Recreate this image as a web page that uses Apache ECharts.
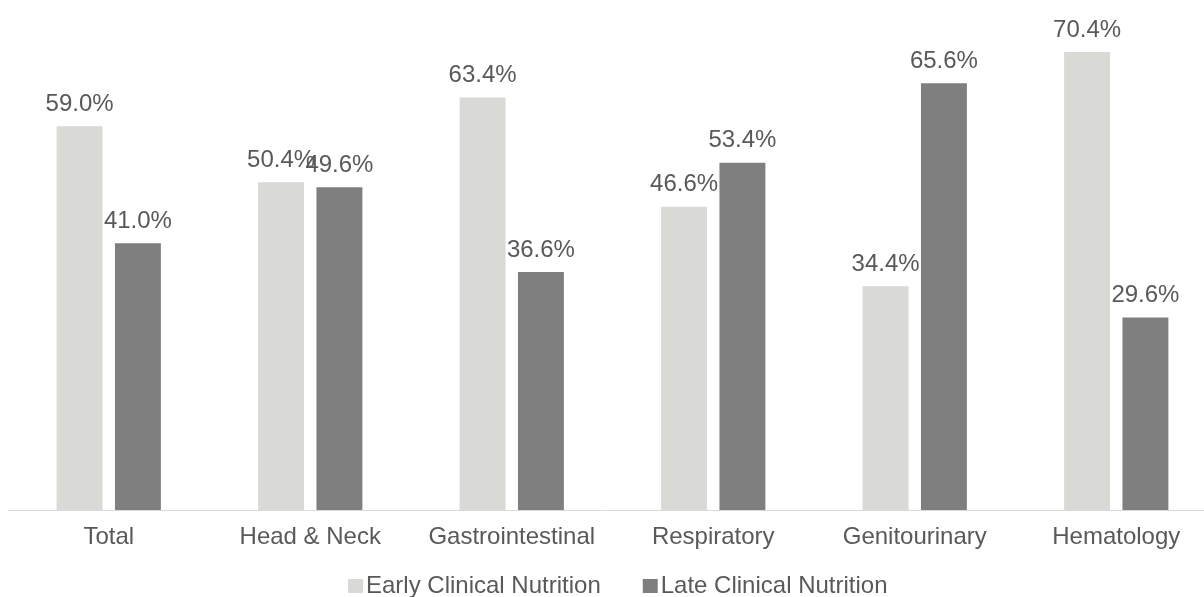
<!DOCTYPE html>
<html>
<head>
<meta charset="utf-8">
<title>Clinical Nutrition</title>
<script src="https://cdn.jsdelivr.net/npm/echarts@6/dist/echarts.min.js"></script>
<style>
	html, body {
		margin: 0;
		padding: 0;
		background: #fff;
	}
	#nutrition_bar {
		width: 1204px;
		height: 597px;
	}
</style>
</head>
<body>
<div id="nutrition_bar"></div>
<script>
	// data
	var categories = ['Total', 'Head & Neck', 'Gastrointestinal', 'Respiratory', 'Genitourinary', 'Hematology'];
	var early_name = 'Early Clinical Nutrition';
	var late_name = 'Late Clinical Nutrition';
	var early_values = [59.0, 50.4, 63.4, 46.6, 34.4, 70.4];
	var late_values = [41.0, 49.6, 36.6, 53.4, 65.6, 29.6];

	var text_color = '#595959';
	var font = 'Liberation Sans, Arial, sans-serif';

	var chart = echarts.init(document.getElementById('nutrition_bar'));

	var label_style = {
		show: true,
		position: 'top',
		distance: 10,
		color: text_color,
		fontSize: 24,
		fontFamily: font,
		formatter: function (p) {
			return p.value.toFixed(1) + '%';
		}
	};

	var option = {
		animation: false,
		color: ['#D9D9D5', '#7F7F7F'],
		legend: {
			data: [early_name, late_name],
			left: 343,
			top: 569,
			icon: 'rect',
			itemWidth: 15,
			itemHeight: 14,
			itemGap: 42,
			textStyle: {
				color: text_color,
				fontSize: 24,
				fontFamily: font,
				padding: [0, 0, 0, -2]
			}
		},
		grid: {
			left: 8,
			top: 0,
			width: 1209,
			bottom: 87,
			containLabel: false,
			outerBoundsMode: 'none'
		},
		xAxis: {
			type: 'category',
			data: categories,
			axisLine: {
				show: true,
				lineStyle: {
					color: '#D9D9D9',
					width: 1
				}
			},
			axisTick: { show: false },
			axisLabel: {
				interval: 0,
				color: text_color,
				fontSize: 24,
				fontFamily: font,
				margin: 15
			}
		},
		yAxis: {
			type: 'value',
			min: 0,
			max: 78.4,
			show: false,
			splitLine: { show: false }
		},
		series: [{
			name: early_name,
			type: 'bar',
			barWidth: '22.8%',
			barGap: '27%',
			data: early_values,
			label: label_style
		}, {
			name: late_name,
			type: 'bar',
			barWidth: '22.8%',
			barGap: '27%',
			data: late_values,
			label: label_style
		}]
	};

	chart.setOption(option);
</script>
</body>
</html>
